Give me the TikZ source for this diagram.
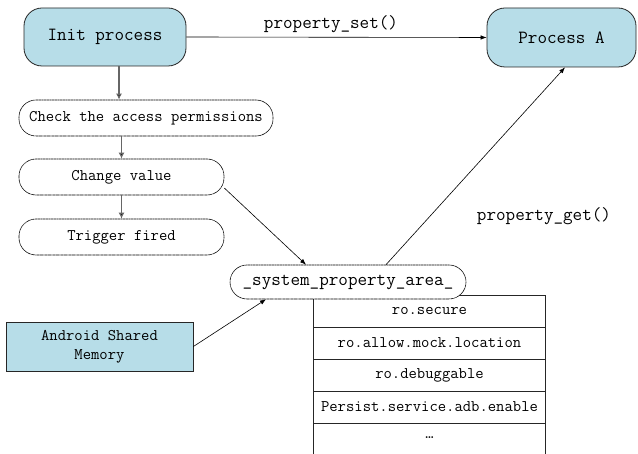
\documentclass[tikz,border=0pt]{standalone}
\usepackage{fontspec}
\usetikzlibrary{arrows.meta}
\definecolor{procblue}{HTML}{B7DDE8}
\newcommand{\bigtxt}{\ttfamily\fontsize{18.6}{21}\selectfont}
\newcommand{\smalltxt}{\ttfamily\fontsize{16.2}{19}\selectfont}
\tikzset{
  process/.style={draw=black!85, line width=0.8pt, fill=procblue, rounded corners=18pt,
    font=\bigtxt, inner sep=0pt},
  stepbox/.style={draw=black, dash pattern=on 1.2pt off 0.4pt, line width=0.6pt, fill=white,
    rounded corners=17pt, font=\smalltxt, inner sep=0pt},
  cell/.style={draw=black!85, line width=0.6pt, minimum width=232pt, minimum height=32pt,
    inner sep=0pt, font=\smalltxt},
  flow/.style={-{Latex[length=6pt,width=4.5pt]}, line width=0.6pt},
  vflow/.style={draw=black!60, line width=1.5pt, -{Latex[length=6pt,width=6pt,fill=black]}},
  lbl/.style={font=\bigtxt, inner sep=0pt}
}
\begin{document}
\begin{tikzpicture}[x=1pt,y=-1pt]
\useasboundingbox (0,0) rectangle (638,454);

% property storage table
\node[cell] (r1) at (429.5,311) {ro.secure};
\node[cell] (r2) at (429.5,343) {ro.allow.mock.location};
\node[cell] (r3) at (429.5,375) {ro.debuggable};
\node[cell] (r4) at (429.5,407) {Persist.service.adb.enable};
\node[minimum width=232pt, minimum height=32pt, inner sep=0pt, font=\smalltxt] (r5) at (429.5,439) {\raisebox{0.2em}{…}};
\draw[black!85, line width=0.6pt] (r5.north west) -- (r5.south west) (r5.north east) -- (r5.south east);

% processes
\node[process, minimum width=162pt, minimum height=58pt] (init) at (105,37) {Init process};
\node[process, minimum width=149pt, minimum height=59pt] (procA) at (561.5,37.5) {Process A};

% steps inside init
\node[stepbox, minimum width=254pt, minimum height=36pt] (check) at (146,118) {Check the access permissions};
\node[stepbox, minimum width=205pt, minimum height=36pt] (change) at (121.5,177) {Change value};
\node[stepbox, minimum width=205pt, minimum height=36pt] (trigger) at (121.5,237) {Trigger fired};

% shared area and memory
\node[stepbox, minimum width=236pt, minimum height=34pt, font=\bigtxt] (sys) at (348,282) {\_system\_property\_area\_};
\node[draw=black!85, line width=0.8pt, fill=procblue, minimum width=187pt, minimum height=49pt,
  inner sep=0pt, font=\smalltxt, align=center] (asm) at (99.5,346.5) {Android Shared\\Memory};

% connectors
\draw[flow] (init.east) -- (procA.west);
\node[lbl] (setlbl) at (331,24) {property\_set()};
\draw[vflow] ([xshift=14pt]init.south) -- ([xshift=14pt]init.south |- check.north);
\draw[vflow] (change.north |- check.south) -- (change.north);
\draw[vflow] (change.south) -- (trigger.north);
\draw[flow] ([yshift=-11pt]change.east) -- ([xshift=-42pt]sys.north);
\draw[flow] ([xshift=38pt]sys.north) -- ([xshift=3.5pt]procA.south);
\node[lbl] (getlbl) at (544,216) {property\_get()};
\draw[flow] (asm.east) -- ([xshift=-82pt]sys.south);
\end{tikzpicture}
\end{document}
